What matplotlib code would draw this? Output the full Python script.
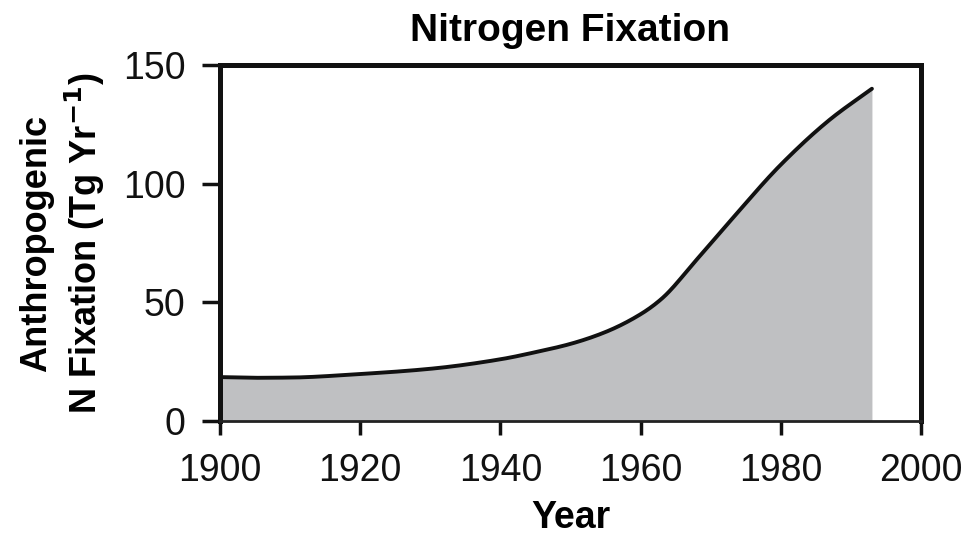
import matplotlib
matplotlib.use("Agg")
import matplotlib.pyplot as plt
import numpy as np

years = [1900, 1905, 1910, 1920, 1930, 1940, 1945, 1950, 1955, 1960, 1963, 1968, 1973, 1980, 1987, 1993]
values = [18.5, 18.2, 18.3, 19.8, 22.0, 26.0, 29.0, 32.5, 37.5, 45.0, 51.5, 68.0, 85.0, 108.0, 127.0, 140.0]
xticks = [1900, 1920, 1940, 1960, 1980, 2000]
yticks = [0, 50, 100, 150]

plt.rcParams['font.family'] = ['Liberation Sans', 'DejaVu Sans']

fig = plt.figure(figsize=(9.74, 5.38), dpi=100)
ax = fig.add_axes([220/974, 117/538, 701/974, 356/538])

# smooth monotone cubic (PCHIP) curve through the read points
xs = np.array(years, dtype=float)
ys = np.array(values, dtype=float)
xf = np.linspace(xs[0], xs[-1], 400)
h = np.diff(xs)
d = np.diff(ys) / h
m = np.zeros_like(ys)
m[0] = d[0]
m[-1] = d[-1]
for i in range(1, len(ys) - 1):
    if d[i-1] * d[i] <= 0:
        m[i] = 0
    else:
        w1 = 2*h[i] + h[i-1]
        w2 = h[i] + 2*h[i-1]
        m[i] = (w1 + w2) / (w1/d[i-1] + w2/d[i])
idx = np.clip(np.searchsorted(xs, xf) - 1, 0, len(xs) - 2)
t = (xf - xs[idx]) / h[idx]
h00 = 2*t**3 - 3*t**2 + 1
h10 = t**3 - 2*t**2 + t
h01 = -2*t**3 + 3*t**2
h11 = t**3 - t**2
yf = h00*ys[idx] + h10*h[idx]*m[idx] + h01*ys[idx+1] + h11*h[idx]*m[idx+1]

ax.fill_between(xf, 0, yf, color='#bfc0c2', linewidth=0, zorder=1)
ax.plot(xf, yf, color='#111111', linewidth=2.8, zorder=3, solid_capstyle='round')

ax.set_xlim(1900, 2000)
ax.set_ylim(0, 150)
ax.set_xticks(xticks)
ax.set_yticks(yticks)
ax.tick_params(axis='both', direction='out', width=2.5, colors='#111111', labelsize=27)
ax.tick_params(axis='x', length=10, pad=13)
ax.tick_params(axis='y', length=13, pad=12)

for s in ['left', 'top', 'right']:
    ax.spines[s].set_linewidth(3.6)
    ax.spines[s].set_color('#111111')
ax.spines['bottom'].set_linewidth(2.0)
ax.spines['bottom'].set_color('#222222')

ax.set_title('Nitrogen Fixation', fontsize=28, fontweight='bold', pad=17)
ax.set_xlabel('Year', fontsize=27, fontweight='bold', labelpad=8)
ax.set_ylabel('Anthropogenic\nN Fixation (Tg Yr$^{\\mathbf{-1}}$)', fontsize=26, fontweight='bold',
              labelpad=11, linespacing=1.26)

fig.savefig('out.png', dpi=100)
